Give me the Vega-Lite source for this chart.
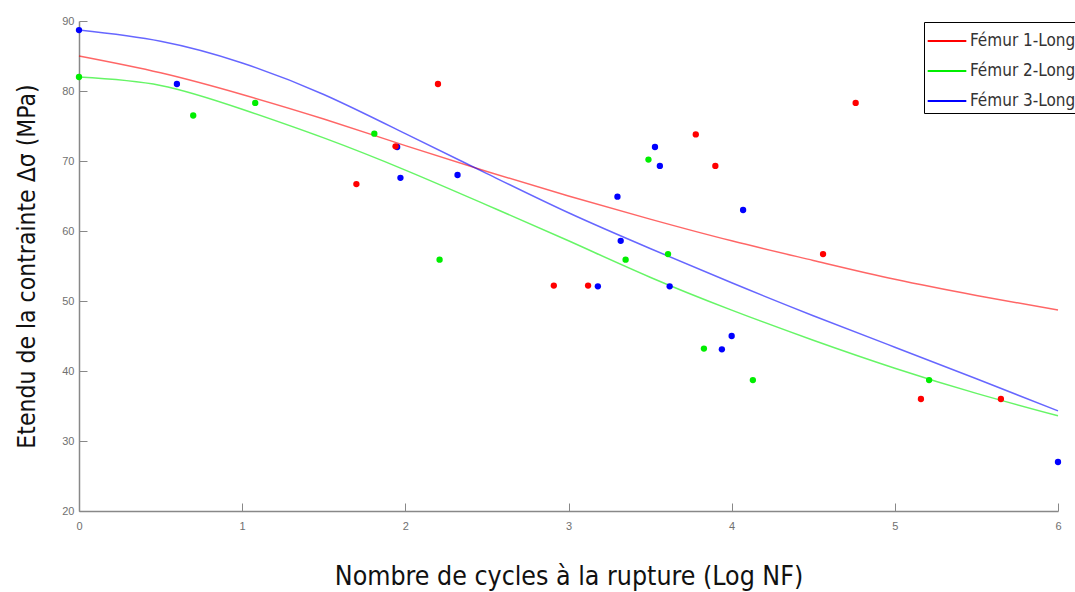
{
  "$schema": "https://vega.github.io/schema/vega-lite/v6.json",
  "autosize": "none",
  "width": 979,
  "height": 490,
  "padding": {"left": 79, "top": 21, "right": 17, "bottom": 81},
  "background": "white",
  "datasets": {
    "curves": [
      {"femur": "Fémur 1-Long", "x": 0, "y": 85.0}, {"femur": "Fémur 1-Long", "x": 0.5, "y": 82.6}, {"femur": "Fémur 1-Long", "x": 1, "y": 79.5}, {"femur": "Fémur 1-Long", "x": 1.5, "y": 76.0}, {"femur": "Fémur 1-Long", "x": 2, "y": 72.2}, {"femur": "Fémur 1-Long", "x": 2.5, "y": 68.5}, {"femur": "Fémur 1-Long", "x": 3, "y": 65.0}, {"femur": "Fémur 1-Long", "x": 3.5, "y": 61.7}, {"femur": "Fémur 1-Long", "x": 4, "y": 58.6}, {"femur": "Fémur 1-Long", "x": 4.5, "y": 55.8}, {"femur": "Fémur 1-Long", "x": 5, "y": 53.1}, {"femur": "Fémur 1-Long", "x": 5.5, "y": 50.8}, {"femur": "Fémur 1-Long", "x": 6, "y": 48.7},
      {"femur": "Fémur 2-Long", "x": 0, "y": 82.0}, {"femur": "Fémur 2-Long", "x": 0.5, "y": 80.8}, {"femur": "Fémur 2-Long", "x": 1, "y": 77.4}, {"femur": "Fémur 2-Long", "x": 1.5, "y": 73.3}, {"femur": "Fémur 2-Long", "x": 2, "y": 68.7}, {"femur": "Fémur 2-Long", "x": 2.5, "y": 63.7}, {"femur": "Fémur 2-Long", "x": 3, "y": 58.6}, {"femur": "Fémur 2-Long", "x": 3.5, "y": 53.4}, {"femur": "Fémur 2-Long", "x": 4, "y": 48.7}, {"femur": "Fémur 2-Long", "x": 4.5, "y": 44.4}, {"femur": "Fémur 2-Long", "x": 5, "y": 40.4}, {"femur": "Fémur 2-Long", "x": 5.5, "y": 36.8}, {"femur": "Fémur 2-Long", "x": 6, "y": 33.6},
      {"femur": "Fémur 3-Long", "x": 0, "y": 88.7}, {"femur": "Fémur 3-Long", "x": 0.5, "y": 87.1}, {"femur": "Fémur 3-Long", "x": 1, "y": 84.0}, {"femur": "Fémur 3-Long", "x": 1.5, "y": 79.5}, {"femur": "Fémur 3-Long", "x": 2, "y": 73.9}, {"femur": "Fémur 3-Long", "x": 2.5, "y": 68.2}, {"femur": "Fémur 3-Long", "x": 3, "y": 62.6}, {"femur": "Fémur 3-Long", "x": 3.5, "y": 57.5}, {"femur": "Fémur 3-Long", "x": 4, "y": 52.6}, {"femur": "Fémur 3-Long", "x": 4.5, "y": 47.9}, {"femur": "Fémur 3-Long", "x": 5, "y": 43.4}, {"femur": "Fémur 3-Long", "x": 5.5, "y": 38.9}, {"femur": "Fémur 3-Long", "x": 6, "y": 34.3}
    ],
    "points": [
      {"femur": "Fémur 3-Long", "x": 0.0, "y": 88.7}, {"femur": "Fémur 3-Long", "x": 0.60, "y": 81.0}, {"femur": "Fémur 3-Long", "x": 1.95, "y": 72.0}, {"femur": "Fémur 3-Long", "x": 1.97, "y": 67.6}, {"femur": "Fémur 3-Long", "x": 2.32, "y": 68.0}, {"femur": "Fémur 3-Long", "x": 3.30, "y": 64.9}, {"femur": "Fémur 3-Long", "x": 3.32, "y": 58.6}, {"femur": "Fémur 3-Long", "x": 3.18, "y": 52.1}, {"femur": "Fémur 3-Long", "x": 3.53, "y": 72.0}, {"femur": "Fémur 3-Long", "x": 3.56, "y": 69.3}, {"femur": "Fémur 3-Long", "x": 3.62, "y": 52.1}, {"femur": "Fémur 3-Long", "x": 4.07, "y": 63.0}, {"femur": "Fémur 3-Long", "x": 3.94, "y": 43.1}, {"femur": "Fémur 3-Long", "x": 4.00, "y": 45.0}, {"femur": "Fémur 3-Long", "x": 6.0, "y": 27.0},
      {"femur": "Fémur 2-Long", "x": 0.0, "y": 82.0}, {"femur": "Fémur 2-Long", "x": 0.70, "y": 76.5}, {"femur": "Fémur 2-Long", "x": 1.08, "y": 78.3}, {"femur": "Fémur 2-Long", "x": 1.81, "y": 73.9}, {"femur": "Fémur 2-Long", "x": 2.21, "y": 55.9}, {"femur": "Fémur 2-Long", "x": 3.49, "y": 70.2}, {"femur": "Fémur 2-Long", "x": 3.35, "y": 55.9}, {"femur": "Fémur 2-Long", "x": 3.61, "y": 56.7}, {"femur": "Fémur 2-Long", "x": 3.83, "y": 43.2}, {"femur": "Fémur 2-Long", "x": 4.13, "y": 38.7}, {"femur": "Fémur 2-Long", "x": 5.21, "y": 38.7},
      {"femur": "Fémur 1-Long", "x": 1.70, "y": 66.7}, {"femur": "Fémur 1-Long", "x": 1.94, "y": 72.1}, {"femur": "Fémur 1-Long", "x": 2.20, "y": 81.0}, {"femur": "Fémur 1-Long", "x": 2.91, "y": 52.2}, {"femur": "Fémur 1-Long", "x": 3.12, "y": 52.2}, {"femur": "Fémur 1-Long", "x": 3.78, "y": 73.8}, {"femur": "Fémur 1-Long", "x": 3.90, "y": 69.3}, {"femur": "Fémur 1-Long", "x": 4.56, "y": 56.7}, {"femur": "Fémur 1-Long", "x": 4.76, "y": 78.3}, {"femur": "Fémur 1-Long", "x": 5.16, "y": 36.0}, {"femur": "Fémur 1-Long", "x": 5.65, "y": 36.0}
    ]
  },
  "config": {
    "view": {"stroke": null},
    "axis": {
      "grid": false,
      "domainColor": "#888888",
      "domainWidth": 1.5,
      "tickColor": "#888888",
      "tickWidth": 1,
      "tickSize": -8,
      "labelFont": "Liberation Sans",
      "labelFontSize": 11,
      "labelColor": "#707070",
      "titleColor": "#111111",
      "titleFont": "Liberation Sans Narrow, DejaVu Sans Condensed, Roboto Condensed, sans-serif",
      "titleFontWeight": "normal"
    },
    "legend": {
      "orient": "none",
      "legendX": 845,
      "legendY": 1,
      "strokeColor": "#000000",
      "fillColor": "#ffffff",
      "padding": 4,
      "symbolType": "M-1.38,0H1.38",
      "symbolSize": 784,
      "symbolStrokeWidth": 2,
      "symbolOpacity": 1,
      "symbolOffset": 4,
      "labelFont": "Liberation Sans Narrow, DejaVu Sans Condensed, Roboto Condensed, sans-serif",
      "labelFontSize": 17,
      "labelColor": "#333333",
      "labelOffset": 8,
      "rowPadding": 7,
      "labelLimit": 300
    }
  },
  "encoding": {
    "x": {
      "field": "x", "type": "quantitative",
      "scale": {"domain": [0, 6], "nice": false, "zero": false},
      "axis": {"values": [0, 1, 2, 3, 4, 5, 6], "title": "Nombre de cycles à la rupture (Log NF)", "titleFontSize": 26.5, "titlePadding": 32, "labelPadding": 17, "labelFlush": false}
    },
    "y": {
      "field": "y", "type": "quantitative",
      "scale": {"domain": [20, 90], "nice": false, "zero": false},
      "axis": {"values": [20, 30, 40, 50, 60, 70, 80, 90], "title": "Etendu de la contrainte Δσ (MPa)", "titleFontSize": 24.5, "titlePadding": 22, "labelPadding": 13}
    },
    "color": {
      "field": "femur", "type": "nominal",
      "scale": {"domain": ["Fémur 1-Long", "Fémur 2-Long", "Fémur 3-Long"], "range": ["#ff0000", "#00ee00", "#0000ff"]},
      "legend": {"title": null}
    }
  },
  "layer": [
    {
      "data": {"name": "curves"},
      "mark": {"type": "line", "interpolate": "natural", "strokeWidth": 1.5, "opacity": 0.6}
    },
    {
      "data": {"name": "points"},
      "mark": {"type": "circle", "size": 40, "opacity": 1}
    }
  ]
}
